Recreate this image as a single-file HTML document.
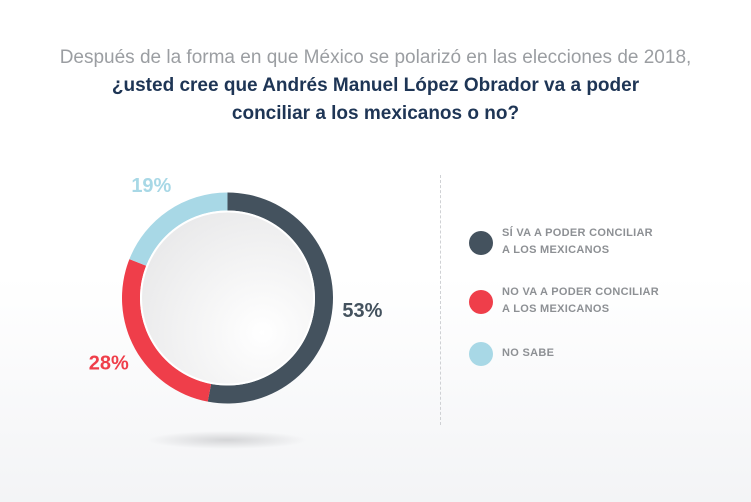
<!DOCTYPE html>
<html><head><meta charset="utf-8"><style>
body{margin:0;width:751px;height:502px;overflow:hidden;background:linear-gradient(#fff 0%,#fff 55%,#f3f4f6 100%);font-family:"Liberation Sans",sans-serif;position:relative}
.t{position:absolute;left:0;width:751px;text-align:center;font-size:19px}
.l{position:absolute;font-size:11px;font-weight:bold;color:#8d9094;line-height:17px;letter-spacing:0.3px}
</style></head><body>
<div class="t" style="top:47px;color:#9b9ea2">Después de la forma en que México se polarizó en las elecciones de 2018,</div>
<div class="t" style="top:75px;color:#1e3555;font-weight:bold">¿usted cree que Andrés Manuel López Obrador va a poder</div>
<div class="t" style="top:103px;color:#1e3555;font-weight:bold">conciliar a los mexicanos o no?</div>
<div style="position:absolute;left:440px;top:175px;height:250px;border-left:1px dashed #cfd1d4"></div>
<svg id="c" width="751" height="502" style="position:absolute;left:0;top:0">
<defs>
<radialGradient id="g" cx="0.7" cy="0.7" r="0.8"><stop offset="0" stop-color="#fff"/><stop offset="1" stop-color="#e9e9ea"/></radialGradient>
<radialGradient id="sh"><stop offset="0" stop-color="#d4d5d7"/><stop offset="1" stop-color="#d4d5d7" stop-opacity="0"/></radialGradient>
</defs>
<ellipse cx="227" cy="440" rx="80" ry="9" fill="url(#sh)"/>
</svg>
<script>
const categories=["SÍ VA A PODER CONCILIAR|A LOS MEXICANOS","NO VA A PODER CONCILIAR|A LOS MEXICANOS","NO SABE"];
const values=[53,28,19];
const colors=["#44525e","#ef3e4a","#a8d8e6"];
const labelText=["53%","28%","19%"];
const svg=document.getElementById('c');const NS="http://www.w3.org/2000/svg";
const cx=227.5,cy=298,R=105.5,r=87.5;
const total=values.reduce((a,b)=>a+b,0);
function pt(a,rad){return [cx+rad*Math.sin(a),cy-rad*Math.cos(a)];}
let a0=0;
values.forEach((v,i)=>{
 const a1=a0+v/total*2*Math.PI;const lg=(a1-a0)>Math.PI?1:0;
 const p1=pt(a0,R),p2=pt(a1,R),p3=pt(a1,r),p4=pt(a0,r);
 const p=document.createElementNS(NS,'path');
 p.setAttribute('d',`M${p1}A${R},${R} 0 ${lg} 1 ${p2}L${p3}A${r},${r} 0 ${lg} 0 ${p4}Z`);
 p.setAttribute('fill',colors[i]);
 
 
 svg.appendChild(p);
 const m=(a0+a1)/2;const lp=pt(m,R+30);
 const t=document.createElementNS(NS,'text');
 t.setAttribute('x',lp[0]);t.setAttribute('y',lp[1]);t.setAttribute('text-anchor','middle');
 t.setAttribute('dominant-baseline','central');
 t.setAttribute('font-size','20');t.setAttribute('font-weight','bold');t.setAttribute('fill',colors[i]);
 t.setAttribute('font-family','Liberation Sans, sans-serif');t.textContent=labelText[i];
 
 
 svg.appendChild(t);
 a0=a1;
});
const ic=document.createElementNS(NS,'circle');
ic.setAttribute('cx',cx);ic.setAttribute('cy',cy);ic.setAttribute('r',r-1);ic.setAttribute('fill','url(#g)');ic.setAttribute('stroke','#fff');ic.setAttribute('stroke-width','2');


svg.appendChild(ic);
const ly=[243,302,354];
categories.forEach((c,i)=>{
 const d=document.createElementNS(NS,'circle');
 d.setAttribute('cx',481);d.setAttribute('cy',ly[i]);d.setAttribute('r',12);d.setAttribute('fill',colors[i]);
 
 
 svg.appendChild(d);
 const lines=c.split('|');
 const div=document.createElement('div');div.className='l';
 div.style.left='502px';div.style.top=(ly[i]-lines.length*8.5-1)+'px';
 div.innerHTML=lines.join('<br>');
 
 
 document.body.appendChild(div);
});
</script>
</body></html>
